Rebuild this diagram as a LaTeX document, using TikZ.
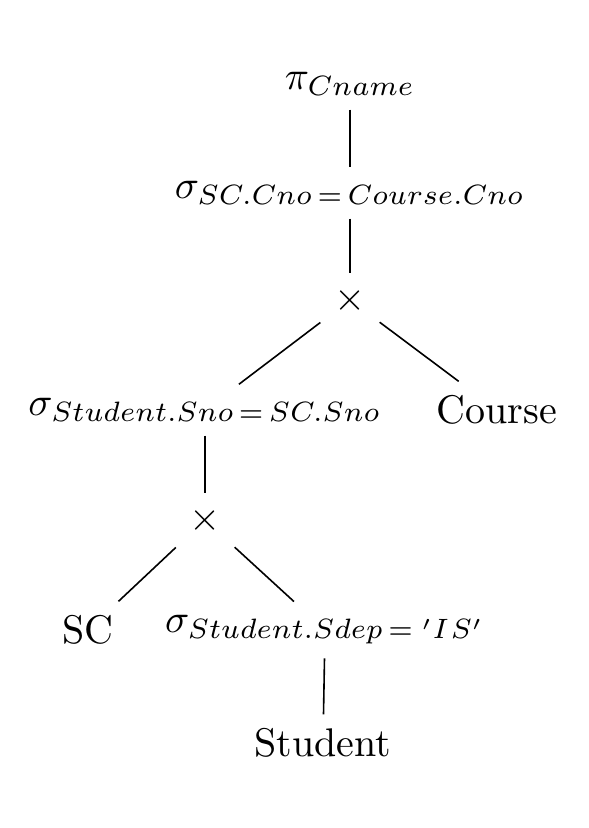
\documentclass[tikz,border=0pt]{standalone}
\newcommand{\speq}{\mkern3mu{=}\mkern3mu}
\begin{document}
\begin{tikzpicture}[x=0.25pt,y=-0.25pt,
  tn/.style={inner sep=0.333em},
  edge/.style={draw=black,line width=0.4pt}]
\useasboundingbox (0,0) rectangle (589,828);
\node[tn] (pi) at (350,84) {$\pi_{Cname}$};
\node[tn] (s1) at (350,193) {$\sigma_{SC.Cno\speq Course.Cno}$};
\node[tn] (x1) at (350,300) {$\times$};
\node[tn] (s2) at (205,410) {$\sigma_{Student.Sno\speq SC.Sno}$};
\node[tn] (course) at (497,410) {Course};
\node[tn] (x2) at (205,520) {$\times$};
\node[tn] (sc) at (88,630) {SC};
\node[tn] (s3) at (325,630) {$\sigma_{Student.Sdep\speq\mkern2mu'I\mkern1mu S'}$};
\node[tn] (student) at (323,743) {Student};
\draw[edge] (pi) -- (s1);
\draw[edge] (s1) -- (x1);
\draw[edge] (x1) -- (s2);
\draw[edge] (x1) -- (course);
\draw[edge] (s2) -- (x2);
\draw[edge] (x2) -- (sc);
\draw[edge] (x2) -- (s3);
\draw[edge] (s3) -- (student);
\end{tikzpicture}
\end{document}
